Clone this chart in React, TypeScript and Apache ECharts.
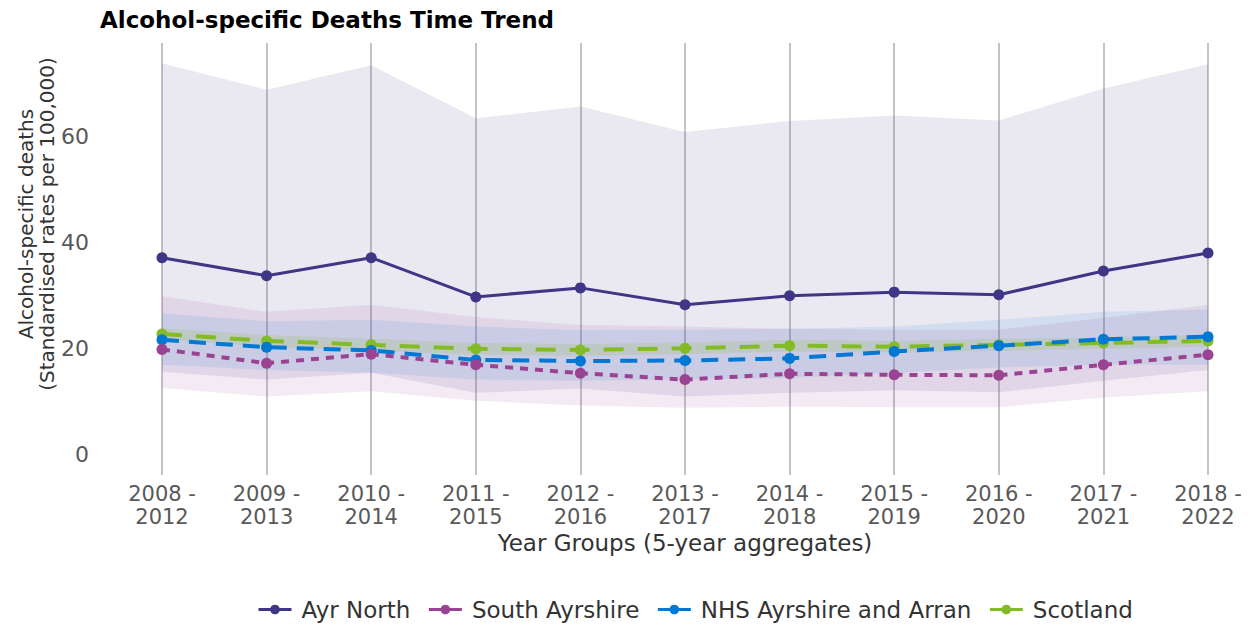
import React, { useEffect, useRef } from "react";
import * as echarts from "echarts";

const categories = [
  "2008 -\n2012", "2009 -\n2013", "2010 -\n2014", "2011 -\n2015", "2012 -\n2016", "2013 -\n2017",
  "2014 -\n2018", "2015 -\n2019", "2016 -\n2020", "2017 -\n2021", "2018 -\n2022",
];
const yTicks = [0, 20, 40, 60];

const ayrNorth = [37.2, 33.8, 37.2, 29.8, 31.5, 28.3, 30.0, 30.7, 30.2, 34.7, 38.1];
const ayrNorthUpper = [73.9, 68.9, 73.5, 63.5, 65.7, 60.9, 63.0, 64.0, 63.1, 69.1, 73.7];
const ayrNorthLower = [15.7, 14.2, 15.5, 11.7, 12.5, 11.0, 11.7, 12.2, 11.8, 14.0, 16.0];

const southAyrshire = [19.9, 17.3, 19.0, 17.0, 15.4, 14.2, 15.3, 15.1, 15.0, 17.0, 18.9];
const southAyrshireUpper = [29.9, 27.0, 28.3, 26.0, 24.5, 24.2, 23.8, 23.6, 23.6, 25.8, 28.3];
const southAyrshireLower = [12.6, 11.0, 12.0, 10.2, 9.3, 8.9, 9.1, 9.0, 9.0, 10.8, 12.0];

const nhs = [21.7, 20.3, 19.7, 17.9, 17.7, 17.8, 18.2, 19.5, 20.6, 21.8, 22.3];
const nhsUpper = [26.7, 25.2, 25.5, 24.2, 23.5, 23.6, 23.8, 24.2, 25.5, 27.0, 27.4];
const nhsLower = [17.0, 16.0, 15.5, 14.2, 14.0, 14.2, 14.5, 15.5, 16.5, 17.0, 17.0];

const scotland = [22.8, 21.5, 20.75, 20.0, 19.8, 20.1, 20.6, 20.4, 20.75, 21.1, 21.5];
const scotlandUpper = [23.9, 22.6, 21.9, 21.1, 20.9, 21.2, 21.7, 21.5, 21.9, 22.2, 22.6];
const scotlandLower = [21.7, 20.4, 19.6, 18.9, 18.7, 19.0, 19.5, 19.3, 19.6, 20.0, 20.4];

const FONT = "DejaVu Sans";

function band(key: string, lower: number[], upper: number[], color: string): any[] {
  return [
    {
      name: key + "_lo",
      type: "line",
      stack: key,
      data: lower,
      symbol: "none",
      silent: true,
      lineStyle: { opacity: 0 },
      z: 1,
    },
    {
      name: key + "_hi",
      type: "line",
      stack: key,
      data: upper.map((u, i) => +(u - lower[i]).toFixed(2)),
      symbol: "none",
      silent: true,
      lineStyle: { opacity: 0 },
      areaStyle: { color, opacity: 1 },
      z: 1,
    },
  ];
}

function mainLine(name: string, data: number[], color: string, dash: any, width: number, z: number) {
  return {
    name,
    type: "line",
    data,
    symbol: "circle",
    symbolSize: 11,
    itemStyle: { color },
    lineStyle: { color, width, type: dash },
    z,
  };
}

export default function App() {
  const ref = useRef<HTMLDivElement>(null);
  useEffect(() => {
    document.body.style.margin = "0";
    const chart = echarts.init(ref.current!, null, { renderer: "svg" });
    chart.setOption({
      animation: false,
      title: {
        text: "Alcohol-specific Deaths Time Trend",
        left: 95,
        top: 3,
        textStyle: { fontFamily: FONT, fontSize: 23, fontWeight: "bold", color: "#000" },
      },
      legend: {
        data: ["Ayr North", "South Ayrshire", "NHS Ayrshire and Arran", "Scotland"],
        bottom: 0,
        left: 252,
        itemWidth: 33,
        itemHeight: 12,
        itemGap: 17,
        lineStyle: { type: "solid", width: 3 },
        textStyle: { fontFamily: FONT, fontSize: 23, color: "#333", padding: [0, 0, 0, 5] },
      },
      grid: { left: 162, right: 43, top: 43, bottom: 151, containLabel: false },
      xAxis: {
        type: "category",
        data: categories,
        boundaryGap: false,
        axisLine: { show: false },
        axisTick: { show: false },
        splitLine: { show: true, lineStyle: { color: "#c4c4c8", width: 2 } },
        axisLabel: {
          fontFamily: FONT,
          fontSize: 21,
          color: "#595959",
          lineHeight: 23,
          margin: 7,
          interval: 0,
        },
        name: "Year Groups (5-year aggregates)",
        nameLocation: "middle",
        nameGap: 56,
        nameMoveOverlap: false,
        nameTextStyle: { fontFamily: FONT, fontSize: 23, color: "#333" },
      },
      yAxis: {
        type: "value",
        min: -3.8,
        max: 77.7,
        axisLine: { show: false },
        axisTick: { show: false },
        splitLine: { show: false },
        axisLabel: {
          customValues: yTicks,
          fontFamily: FONT,
          fontSize: 22,
          color: "#595959",
          margin: 73,
          align: "right",
        },
        name: "Alcohol-specific deaths\n(Standardised rates per 100,000)",
        nameLocation: "middle",
        nameRotate: 90,
        nameGap: 105,
        nameMoveOverlap: false,
        nameTextStyle: {
          fontFamily: FONT,
          fontSize: 20,
          color: "#333",
          lineHeight: 21,
          padding: [0, 0, 0, 70],
        },
      },
      series: [
        ...band("an", ayrNorthLower, ayrNorthUpper, "rgba(63,54,133,0.11)"),
        ...band("sa", southAyrshireLower, southAyrshireUpper, "rgba(155,67,147,0.11)"),
        ...band("nhs", nhsLower, nhsUpper, "rgba(0,120,212,0.10)"),
        ...band("sc", scotlandLower, scotlandUpper, "rgba(131,187,38,0.16)"),
        mainLine("Scotland", scotland, "#83bb26", [20, 14], 4, 5),
        mainLine("NHS Ayrshire and Arran", nhs, "#0078d4", [17, 10], 4, 6),
        mainLine("South Ayrshire", southAyrshire, "#9b4393", [8, 7], 4, 7),
        mainLine("Ayr North", ayrNorth, "#3f3685", "solid", 3, 8),
      ],
    });
    return () => chart.dispose();
  }, []);
  return <div ref={ref} style={{ width: 1251, height: 626 }} />;
}
